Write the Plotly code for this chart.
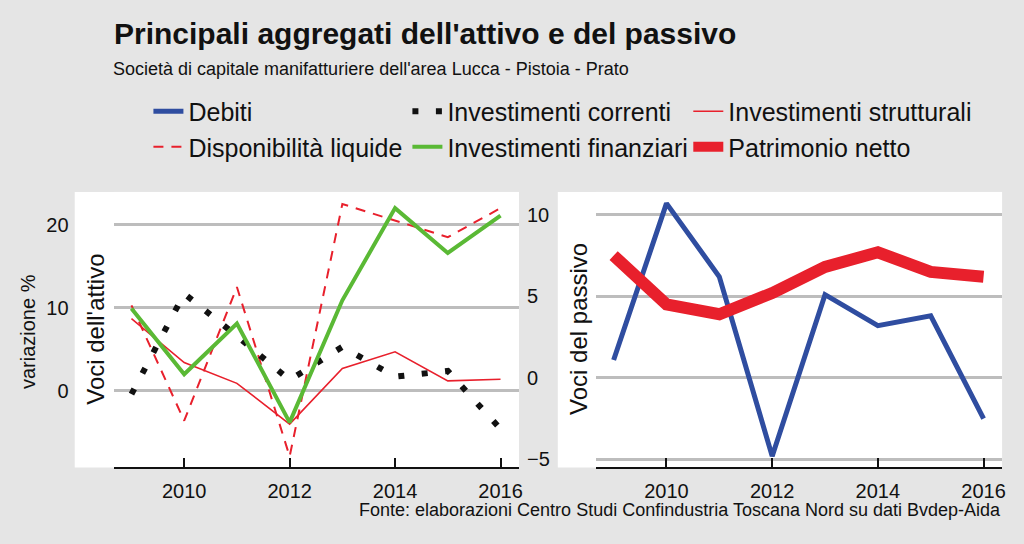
import plotly.graph_objects as go

years = [2009, 2010, 2011, 2012, 2013, 2014, 2015, 2016]
debiti = [1.1, 10.7, 6.2, -4.8, 5.1, 3.2, 3.8, -2.5]
patrimonio_netto = [7.5, 4.5, 3.9, 5.2, 6.8, 7.7, 6.5, 6.2]
inv_correnti = [-0.4, 11.7, 6.6, 1.3, 5.3, 1.7, 2.4, -4.6]
inv_strutturali = [8.7, 3.4, 0.9, -4.0, 2.7, 4.7, 1.2, 1.4]
disponibilita = [10.3, -3.6, 12.5, -7.9, 22.5, 20.5, 18.5, 22.0]
inv_finanziari = [9.9, 2.0, 8.1, -3.8, 10.9, 22.0, 16.6, 21.1]
x_ticks = [2010, 2012, 2014, 2016]
left_ticks = [0, 10, 20]
right_ticks = [-5, 0, 5, 10]

BLUE = "#2f4da0"
RED = "#e8202c"
GREEN = "#5ab935"
BLACK = "#111111"
GRID = "#bdbdbd"
BG = "#e5e5e5"
FONT = "Liberation Sans, Arial, sans-serif"

W, H = 1024, 544
def px(x):
    return x / W
def py(y):
    return 1 - y / H

fig = go.Figure()
fig.add_trace(go.Scatter(x=years, y=debiti, name="Debiti", mode="lines",
                         line=dict(color=BLUE, width=5), xaxis="x2", yaxis="y2",
                         legend="legend"))
fig.add_trace(go.Scatter(x=years, y=inv_strutturali, name="Investimenti strutturali", mode="lines",
                         line=dict(color=RED, width=1.6), xaxis="x", yaxis="y",
                         legend="legend3"))
fig.add_trace(go.Scatter(x=years, y=disponibilita, name="Disponibilità liquide", mode="lines",
                         line=dict(color=RED, width=2, dash="10px,8px"), xaxis="x", yaxis="y",
                         legend="legend"))
fig.add_trace(go.Scatter(x=years, y=inv_correnti, name="Investimenti correnti", mode="lines",
                         line=dict(color=BLACK, width=6, dash="6px,17.5px"), xaxis="x", yaxis="y",
                         legend="legend2"))
fig.add_trace(go.Scatter(x=years, y=inv_finanziari, name="Investimenti finanziari", mode="lines",
                         line=dict(color=GREEN, width=4), xaxis="x", yaxis="y",
                         legend="legend2"))
fig.add_trace(go.Scatter(x=years, y=patrimonio_netto, name="Patrimonio netto", mode="lines",
                         line=dict(color=RED, width=12), xaxis="x2", yaxis="y2",
                         legend="legend3"))
# empty helper trace so the passive-scale tick labels (between the panels) are drawn
fig.add_trace(go.Scatter(x=[], y=[], xaxis="x", yaxis="y3", showlegend=False,
                         hoverinfo="skip", mode="lines"))

xr = [2008.66, 2016.35]
xaxis_common = dict(range=xr, tickvals=x_ticks, ticks="inside", ticklen=10, tickwidth=2,
                    tickcolor=BLACK, showline=True, linecolor=BLACK, linewidth=1.5,
                    showgrid=False, zeroline=False, tickfont=dict(size=20, color=BLACK, family=FONT),
                    ticklabelstandoff=5, fixedrange=True)
yaxis_common = dict(showline=False, showgrid=True, gridcolor=GRID, gridwidth=3, zeroline=False,
                    ticks="", tickfont=dict(size=20, color=BLACK, family=FONT), fixedrange=True)

legend_common = dict(orientation="v", xanchor="left", yanchor="top", bgcolor="rgba(0,0,0,0)",
                     font=dict(size=25, color=BLACK, family=FONT), tracegroupgap=0,
                     itemwidth=30)

fig.update_layout(
    width=W, height=H,
    margin=dict(l=0, r=0, t=0, b=0),
    paper_bgcolor=BG, plot_bgcolor="white",
    font=dict(family=FONT, color=BLACK),
    title=dict(text="<b>Principali aggregati dell'attivo e del passivo</b>",
               x=px(114), xanchor="left", y=py(33), yanchor="middle",
               font=dict(size=30, color=BLACK, family=FONT)),
    xaxis=dict(domain=[px(114), px(521)], anchor="y", **xaxis_common),
    xaxis2=dict(domain=[px(598), px(1006)], anchor="y2", **xaxis_common),
    yaxis=dict(domain=[py(470), py(193)], anchor="x", range=[-9.22, 23.95],
               tickvals=left_ticks, ticklabelstandoff=44, **yaxis_common),
    yaxis2=dict(domain=[py(470), py(193)], anchor="x2", range=[-5.49, 11.40],
                tickvals=right_ticks, showticklabels=False, **yaxis_common),
    yaxis3=dict(overlaying="y", anchor="x", side="right", range=[-5.49, 11.40],
                tickvals=right_ticks, showgrid=False, zeroline=False, showline=False,
                ticks="", tickfont=dict(size=20, color=BLACK, family=FONT),
                ticklabelstandoff=7, fixedrange=True),
    legend=dict(x=px(149), y=py(89), **legend_common),
    legend2=dict(x=px(409), y=py(89), **legend_common),
    legend3=dict(x=px(691), y=py(89), **legend_common),
    shapes=[
        dict(type="rect", xref="paper", yref="paper", x0=px(75), x1=px(521), y0=py(470), y1=py(193),
             fillcolor="white", line=dict(width=0), layer="below"),
        dict(type="rect", xref="paper", yref="paper", x0=px(560), x1=px(1006), y0=py(470), y1=py(193),
             fillcolor="white", line=dict(width=0), layer="below"),
    ],
    annotations=[
        dict(text="Società di capitale manifatturiere dell'area Lucca - Pistoia - Prato",
             xref="paper", yref="paper", x=px(111), y=py(69), xanchor="left", yanchor="middle",
             showarrow=False, font=dict(size=18, color=BLACK, family=FONT)),
        dict(text="variazione %", xref="paper", yref="paper", x=px(28), y=py(333),
             xanchor="center", yanchor="middle", textangle=-90, showarrow=False,
             font=dict(size=20, color=BLACK, family=FONT)),
        dict(text="Voci dell'attivo", xref="paper", yref="paper", x=px(96), y=py(331),
             xanchor="center", yanchor="middle", textangle=-90, showarrow=False,
             font=dict(size=24, color=BLACK, family=FONT)),
        dict(text="Voci del passivo", xref="paper", yref="paper", x=px(580), y=py(331),
             xanchor="center", yanchor="middle", textangle=-90, showarrow=False,
             font=dict(size=24, color=BLACK, family=FONT)),
        dict(text="Fonte: elaborazioni Centro Studi Confindustria Toscana Nord su dati Bvdep-Aida",
             xref="paper", yref="paper", x=px(1007), y=py(513), xanchor="right", yanchor="middle",
             showarrow=False, font=dict(size=18, color=BLACK, family=FONT)),
    ],
)

fig.write_html("out.html", config={"displayModeBar": False},
               post_script="document.body.style.margin='0';document.body.style.overflow='hidden';")
